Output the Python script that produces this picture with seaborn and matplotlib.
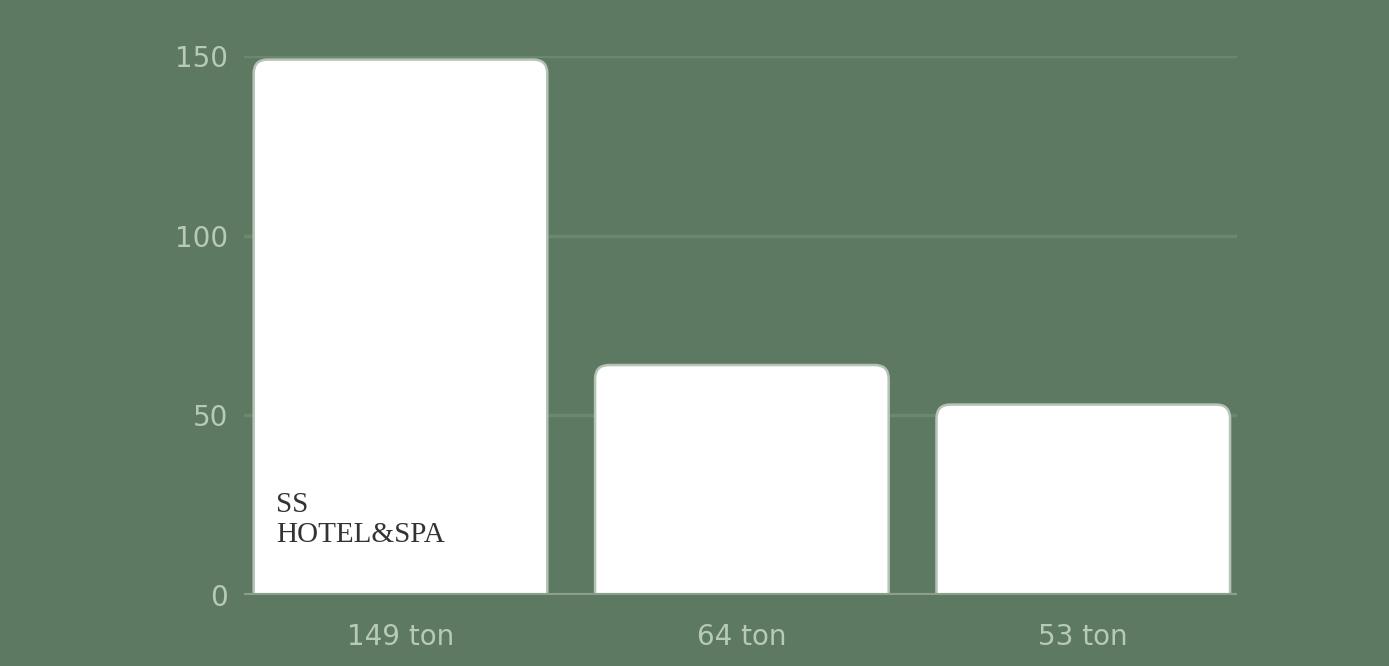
import numpy as np
from matplotlib import pyplot as plt
from matplotlib.patches import FancyBboxPatch
import seaborn as sns
import pandas as pd

# data
categories = ['149 ton', '64 ton', '53 ton']
values = [149, 64, 53]
y_ticks = [0, 50, 100, 150]

bg = '#5d7961'
label_col = '#b7c9b8'

sns.set_theme(style='white')
plt.rcParams['font.family'] = ['DejaVu Sans']

df = pd.DataFrame({'label': categories, 'value': values})

fig = plt.figure(figsize=(13.89, 6.66), dpi=100, facecolor=bg)
ax = fig.add_axes([0.176, 0.1066, 0.7145, 0.8094])
ax.set_facecolor(bg)

sns.barplot(data=df, x='label', y='value', color='white', width=0.86, ax=ax)

ax.set_xlim(-0.457, 2.45)
ax.set_ylim(0, 150)

# swap the plain bars for ones with rounded tops
px_x = 341.0   # pixels per category
px_y = 539.0 / 150
aspect = px_x / px_y
for p in list(ax.patches):
    x, w, h = p.get_x(), p.get_width(), p.get_height()
    r = 14 / px_x
    fb = FancyBboxPatch((x, -20), w, h + 20,
                        boxstyle='round,pad=0,rounding_size=%f' % r,
                        mutation_aspect=aspect,
                        facecolor='white', edgecolor='#b4c3b5', linewidth=1.8,
                        zorder=3)
    ax.add_patch(fb)
    p.remove()

# grid
for t in y_ticks[1:]:
    ax.axhline(t, color='#6a886e', lw=2.5, zorder=1)
ax.axhline(0, color='#8a9f8c', lw=3, zorder=4)

ax.set_yticks(y_ticks)
ax.set_yticklabels([str(t) for t in y_ticks])
ax.tick_params(axis='y', length=0, pad=12, labelsize=20, labelcolor=label_col)
ax.tick_params(axis='x', length=0, pad=20, labelsize=20, labelcolor=label_col)
ax.set_xlabel('')
ax.set_ylabel('')
for s in ax.spines.values():
    s.set_visible(False)

# logo text on the first bar
ax.text(-0.364, 13.2, 'SS\nHOTEL&SPA', family=['Liberation Serif', 'DejaVu Serif'],
        fontsize=21, color='#333333', ha='left', va='bottom',
        linespacing=1.2, zorder=5)

plt.savefig('out.png', dpi=100, facecolor=bg)
plt.close()
